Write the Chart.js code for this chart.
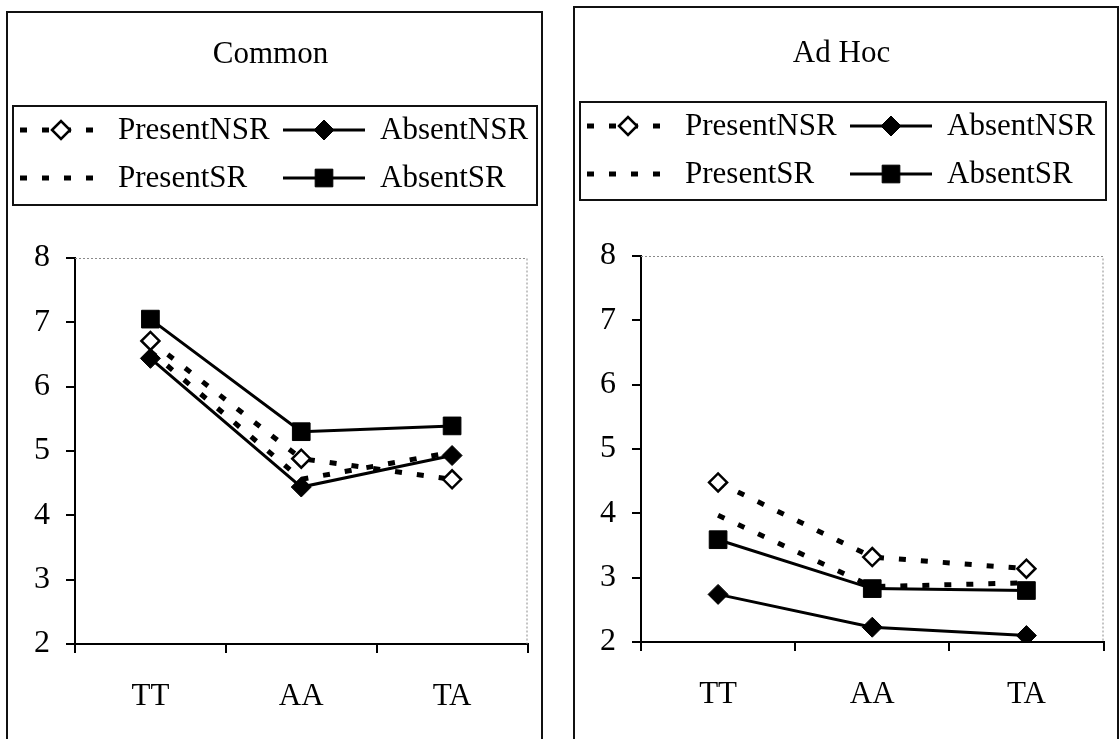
<!DOCTYPE html>
<html>
<head>
<meta charset="utf-8">
<title>Common / Ad Hoc</title>
<script src="https://cdn.jsdelivr.net/npm/chart.js@4.4.1/dist/chart.umd.min.js"></script>
<style>
    body { margin: 0; background: #fff; width: 1119px; height: 739px; overflow: hidden; position: relative; }
    .panel { position: absolute; border: 2px solid #111; border-bottom: none; box-sizing: border-box; background: #fff; }
    .panel canvas { display: block; }
</style>
</head>
<body>
<div class="panel" style="left:6px; top:11px; width:537px; height:728px;"><canvas id="commonChart" width="533" height="726"></canvas></div>
<div class="panel" style="left:573px; top:6px; width:546px; height:733px;"><canvas id="adHocChart" width="542" height="731"></canvas></div>

<script>
// categories and series
const categories = ['TT', 'AA', 'TA'];
const seriesNames = ['PresentNSR', 'AbsentNSR', 'PresentSR', 'AbsentSR'];
const yTicks = [2, 3, 4, 5, 6, 7, 8];

const commonPresentNSR = [6.71, 4.88, 4.56];
const commonAbsentNSR = [6.44, 4.44, 4.93];
const commonPresentSR = [6.55, 4.56, 4.98];
const commonAbsentSR = [7.05, 5.30, 5.39];

const adHocPresentNSR = [4.48, 3.32, 3.14];
const adHocAbsentNSR = [2.74, 2.23, 2.10];
const adHocPresentSR = [3.97, 2.86, 2.92];
const adHocAbsentSR = [3.59, 2.83, 2.80];

const FONT = '"Liberation Serif", "Times New Roman", serif';

// line / marker look for each series
function seriesStyle(name) {
    const present = name.startsWith('Present');
    const style = {
        borderColor: '#000',
        borderWidth: present ? 5 : 3,
        borderDash: present ? [7, 15] : [],
        pointBorderColor: '#000',
        pointBackgroundColor: '#000',
        pointBorderWidth: 1,
        pointRadius: 0,
        pointStyle: 'circle',
    };
    if (name === 'PresentNSR') {
        style.pointStyle = 'rectRot';
        style.pointRadius = 9;
        style.pointBackgroundColor = '#fff';
        style.pointBorderWidth = 2.5;
    } else if (name === 'AbsentNSR') {
        style.pointStyle = 'rectRot';
        style.pointRadius = 10;
    } else if (name === 'AbsentSR') {
        style.pointStyle = 'rect';
        style.pointRadius = 12.5;
    }
    return style;
}

// dotted frame on top/right of the plot area
const plotFrame = {
    id: 'plotFrame',
    beforeDatasetsDraw(chart) {
        const { ctx, chartArea: a } = chart;
        ctx.save();
        ctx.strokeStyle = '#8a8a8a';
        ctx.lineWidth = 1;
        ctx.setLineDash([2, 2]);
        ctx.beginPath();
        ctx.moveTo(a.left, a.top + 0.5);
        ctx.lineTo(a.right - 0.5, a.top + 0.5);
        ctx.lineTo(a.right - 0.5, a.bottom);
        ctx.stroke();
        ctx.restore();
    }
};

// boxed two-column legend with line + marker samples
const boxLegend = {
    id: 'boxLegend',
    afterDraw(chart, args, opts) {
        const { ctx } = chart;
        const [bx, by, bw, bh] = opts.box;
        ctx.save();
        ctx.strokeStyle = '#111';
        ctx.lineWidth = 2;
        ctx.setLineDash([]);
        ctx.strokeRect(bx, by, bw, bh);

        chart.data.datasets.forEach((ds, i) => {
            const col = i % 2, row = Math.floor(i / 2);
            const y = by + opts.rowY[row];
            const x0 = bx + opts.sampleX[col];
            const x1 = x0 + opts.sampleW;

            ctx.strokeStyle = ds.borderColor;
            ctx.lineWidth = ds.borderWidth;
            ctx.setLineDash(ds.borderDash);
            ctx.beginPath();
            ctx.moveTo(x0, y);
            ctx.lineTo(x1, y);
            ctx.stroke();
            ctx.setLineDash([]);

            if (ds.pointRadius > 0) {
                ctx.fillStyle = ds.pointBackgroundColor;
                ctx.strokeStyle = ds.pointBorderColor;
                ctx.lineWidth = ds.pointBorderWidth;
                Chart.helpers.drawPoint(ctx, {
                    pointStyle: ds.pointStyle,
                    rotation: 0,
                    radius: ds.pointRadius,
                    borderWidth: ds.pointBorderWidth
                }, (x0 + x1) / 2, y);
            }

            ctx.fillStyle = '#000';
            ctx.font = '31px ' + FONT;
            ctx.textAlign = 'left';
            ctx.textBaseline = 'middle';
            ctx.fillText(ds.label, bx + opts.textX[col], y + 1);
        });
        ctx.restore();
    }
};

function initPanelChart(canvasId, title, values, layout) {
    const canvas = document.getElementById(canvasId);
    const ctx = canvas.getContext('2d');
    const titleSize = 31 * 1.2;

    const datasets = seriesNames.map((name, i) => Object.assign({
        label: name,
        data: values[i],
        fill: false,
        tension: 0,
    }, seriesStyle(name)));

    const axisStyle = {
        grid: { display: true, drawOnChartArea: false, color: '#000', lineWidth: 2, tickLength: 9 },
        border: { display: true, color: '#000', width: 2 },
    };

    return new Chart(ctx, {
        type: 'line',
        data: { labels: categories, datasets: datasets },
        options: {
            responsive: false,
            animation: false,
            events: [],
            layout: {
                padding: { left: 0, top: 0, right: canvas.width - layout.areaRight, bottom: 0 }
            },
            plugins: {
                legend: { display: false },
                tooltip: { enabled: false },
                title: {
                    display: true,
                    text: title,
                    color: '#000',
                    font: { family: FONT, size: 31, weight: 'normal', lineHeight: 1.2 },
                    padding: {
                        top: layout.titleY - titleSize / 2,
                        bottom: layout.areaTop - (layout.titleY - titleSize / 2) - titleSize
                    }
                },
                boxLegend: {
                    box: layout.legendBox,
                    rowY: [24, 72],
                    sampleX: [7, 270],
                    sampleW: 82,
                    textX: [105, 367]
                }
            },
            scales: {
                x: Object.assign({}, axisStyle, {
                    offset: true,
                    grid: Object.assign({}, axisStyle.grid, { offset: true }),
                    ticks: { color: '#000', font: { family: FONT, size: 31 }, padding: 25, maxRotation: 0 },
                    afterFit(scale) { scale.height = canvas.height - layout.areaBottom; }
                }),
                y: Object.assign({}, axisStyle, {
                    min: yTicks[0],
                    max: yTicks[yTicks.length - 1],
                    afterBuildTicks(scale) { scale.ticks = yTicks.map(v => ({ value: v })); },
                    ticks: { color: '#000', font: { family: FONT, size: 32 }, padding: 16 },
                    afterFit(scale) { scale.width = layout.areaLeft; }
                })
            }
        },
        plugins: [plotFrame, boxLegend]
    });
}

document.addEventListener('DOMContentLoaded', () => {
    initPanelChart('commonChart', 'Common',
        [commonPresentNSR, commonAbsentNSR, commonPresentSR, commonAbsentSR],
        { areaLeft: 67, areaRight: 525, areaTop: 245, areaBottom: 631, titleY: 42, legendBox: [5, 93, 524, 99] });

    initPanelChart('adHocChart', 'Ad Hoc',
        [adHocPresentNSR, adHocAbsentNSR, adHocPresentSR, adHocAbsentSR],
        { areaLeft: 66, areaRight: 533, areaTop: 248, areaBottom: 634, titleY: 46, legendBox: [5, 94, 526, 98] });
});
</script>
</body>
</html>
